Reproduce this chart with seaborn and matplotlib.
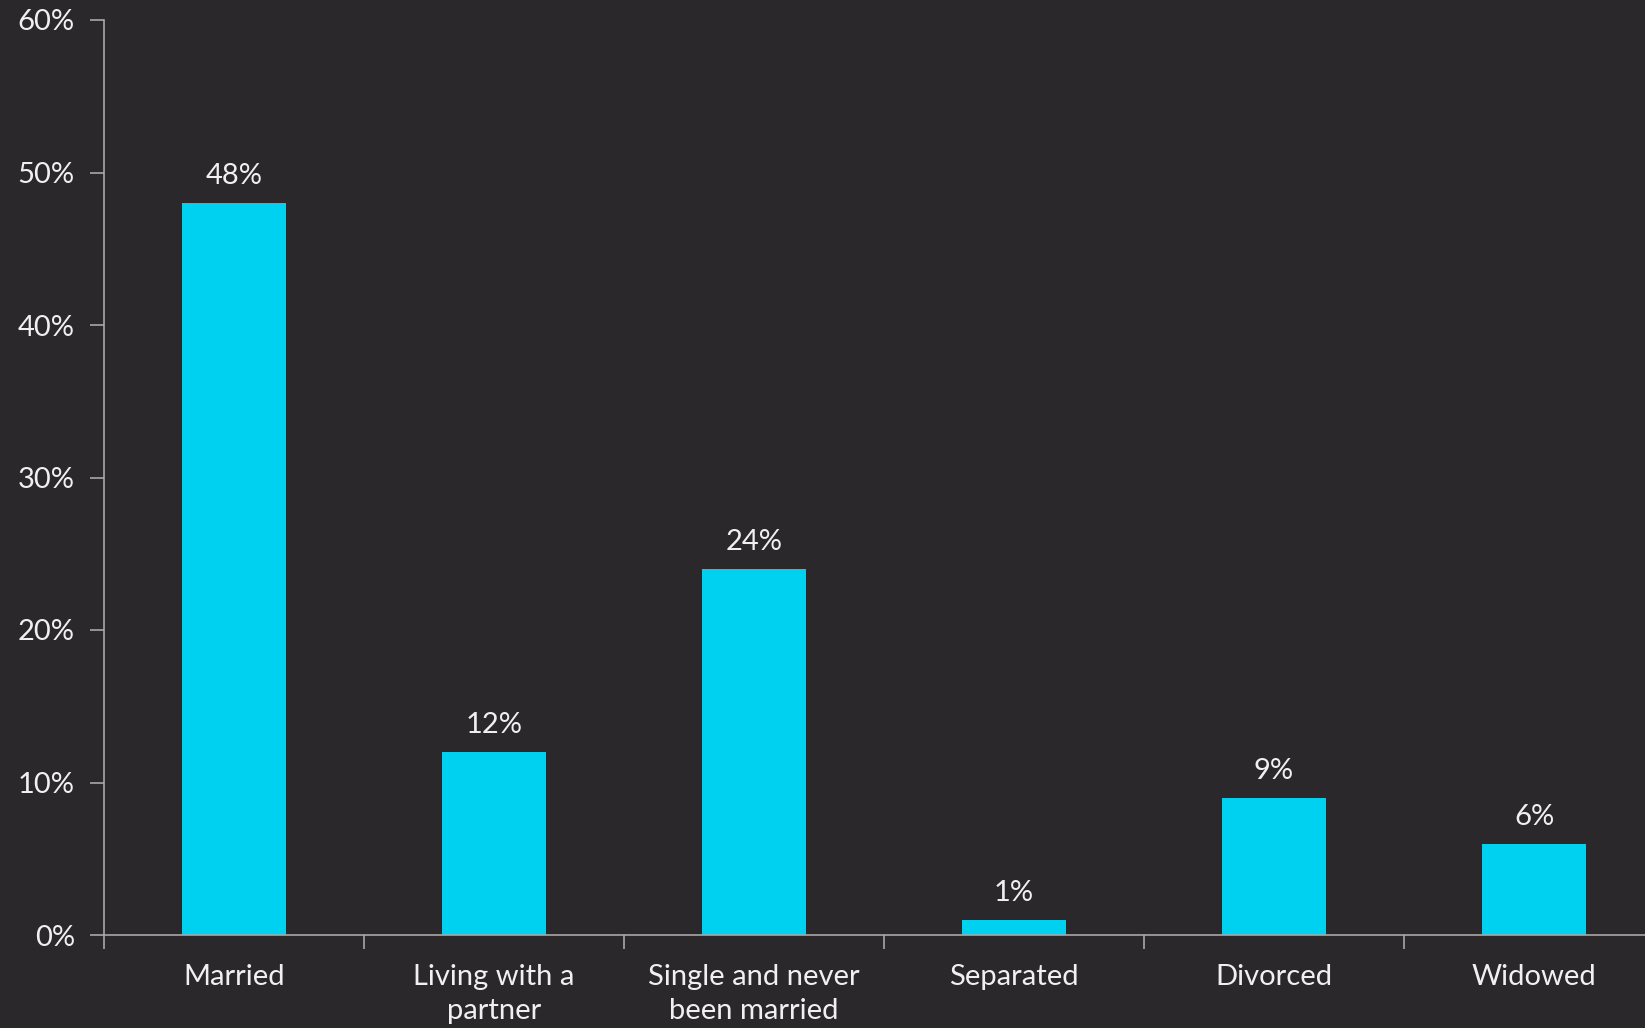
import matplotlib
matplotlib.use("Agg")
import matplotlib.pyplot as plt
import matplotlib.ticker as mticker
import numpy as np
import seaborn as sns

# marital status shares (%)
categories = ["Married", "Living with a\npartner", "Single and never\nbeen married",
              "Separated", "Divorced", "Widowed"]
shares = [48, 12, 24, 1, 9, 6]
y_ticks = [0, 10, 20, 30, 40, 50, 60]

BG = "#2b282b"
BAR = "#00d1f0"
TXT = "#f0f0f0"
AXIS = "#a8a8a8"

sns.set_theme(style="ticks")
plt.rcParams["font.family"] = ["Lato", "DejaVu Sans"]

W, H = 1645, 1028
fig = plt.figure(figsize=(W / 100, H / 100), dpi=100, facecolor=BG)
left, right = 104 / W, 1664 / W
bottom, top = 1 - 935 / H, 1 - 20 / H
ax = fig.add_axes([left, bottom, right - left, top - bottom])
ax.set_facecolor(BG)

sns.barplot(x=categories, y=shares, color=BAR, width=0.4, saturation=1,
            linewidth=0, ax=ax)

for i, v in enumerate(shares):
    ax.annotate(f"{v}%", (i, v), xytext=(0, 10), textcoords="offset points",
                ha="center", va="bottom", fontsize=21, color=TXT)

ax.set_xlim(-0.5, len(categories) - 0.5)
ax.set_ylim(0, 60)
ax.set_yticks(y_ticks)
ax.yaxis.set_major_formatter(mticker.FuncFormatter(lambda v, p: f"{v:.0f}%"))

# ticks on category boundaries, labels at centers
ax.set_xticks(np.arange(len(categories) + 1) - 0.5)
ax.set_xticklabels([])
ax.set_xticks(np.arange(len(categories)), minor=True)
ax.set_xticklabels(categories, minor=True)
ax.tick_params(axis="x", which="major", length=10, width=1.2, color=AXIS, direction="out")
ax.tick_params(axis="x", which="minor", length=0, pad=21, labelsize=21, labelcolor=TXT)
ax.tick_params(axis="y", length=10, width=1.2, color=AXIS, pad=11,
               labelsize=21, labelcolor=TXT)
for lab in ax.get_xticklabels(minor=True):
    lab.set_linespacing(1.36)

ax.set_xlabel("")
ax.set_ylabel("")
for s in ["top", "right"]:
    ax.spines[s].set_visible(False)
for s in ["left", "bottom"]:
    ax.spines[s].set_color(AXIS)
    ax.spines[s].set_linewidth(1.2)

fig.savefig("out.png", dpi=100, facecolor=BG)
